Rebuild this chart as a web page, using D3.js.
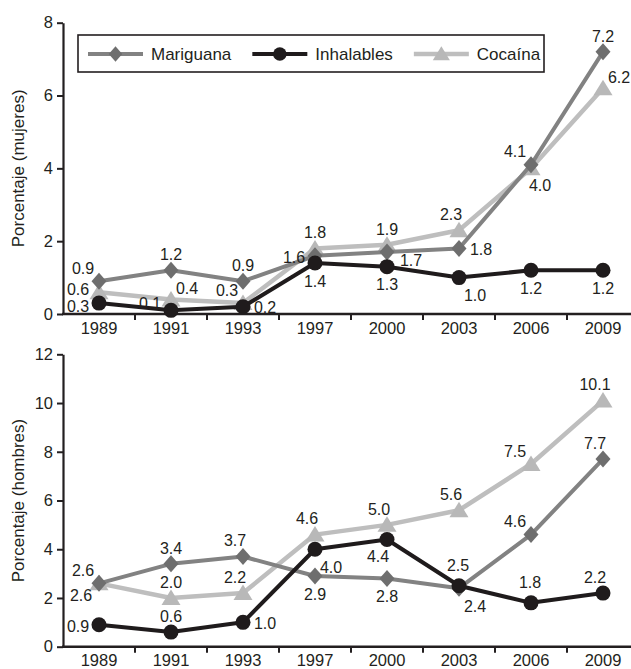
<!DOCTYPE html>
<html>
<head>
<meta charset="utf-8">
<script src="https://cdn.jsdelivr.net/npm/d3@7"></script>
<style>
  html, body { margin: 0; padding: 0; background: #fff; }
  svg text { font-family: "Liberation Sans", Arial, Helvetica, sans-serif; fill: #231f20; }
</style>
</head>
<body>
<svg id="chart" width="631" height="669"></svg>
<script>
// ---------- DATA ----------
const years = ["1989", "1991", "1993", "1997", "2000", "2003", "2006", "2009"];
const seriesNames = ["Mariguana", "Inhalables", "Cocaína"];

// Mujeres (top panel)
const mujeresMariguana  = [0.9, 1.2, 0.9, 1.6, 1.7, 1.8, 4.1, 7.2];
const mujeresInhalables = [0.3, 0.1, 0.2, 1.4, 1.3, 1.0, 1.2, 1.2];
const mujeresCocaina    = [0.6, 0.4, 0.3, 1.8, 1.9, 2.3, 4.0, 6.2];

// Hombres (bottom panel)
const hombresMariguana  = [2.6, 3.4, 3.7, 2.9, 2.8, 2.4, 4.6, 7.7];
const hombresInhalables = [0.9, 0.6, 1.0, 4.0, 4.4, 2.5, 1.8, 2.2];
const hombresCocaina    = [2.6, 2.0, 2.2, 4.6, 5.0, 5.6, 7.5, 10.1];

// Tick labels
const mujeresTicks = [0, 2, 4, 6, 8];
const hombresTicks = [0, 2, 4, 6, 8, 10, 12];
const mujeresTitle = "Porcentaje (mujeres)";
const hombresTitle = "Porcentaje (hombres)";

// Value-label placement (compass direction relative to the point)
const mujeresMariguanaLbl  = ["NW", "N", "N", "W", "ESE", "E", "NW", "N"];
const mujeresInhalablesLbl = ["Wdn", "WNW", "E", "S", "S", "SE", "S", "S"];
const mujeresCocainaLbl    = ["Wup", "NE", "NW", "N", "N", "NNW", "SSE", "NE"];
const hombresMariguanaLbl  = ["NW", "N", "NNW", "S", "S", "SE", "NW", "NNW"];
const hombresInhalablesLbl = ["W", "N", "E", "SE", "SSW", "NN", "NN", "NNW"];
const hombresCocainaLbl    = ["SW", "N", "NNW", "NNW", "NNW", "NNW", "NW", "NNW"];

// ---------- STYLE / LAYOUT ----------
const W = 631, H = 669;
const ink = "#231f20";
const styles = {
  "Mariguana":  { line: "#828282", marker: "#6e6e6e", shape: "diamond", width: 4 },
  "Inhalables": { line: "#1f1b1c", marker: "#1f1b1c", shape: "circle",  width: 4 },
  "Cocaína":    { line: "#bebebe", marker: "#b8b8b8", shape: "triangle", width: 4.5 }
};
const drawOrder = ["Cocaína", "Mariguana", "Inhalables"];
const offsets = {
  N:   [0, -16], NN: [-1, -21], S: [0, 18],
  W:   [-21, 1], Wup: [-21, -3], Wdn: [-21, 3], E: [22, 1], ESE: [24, 8], WNW: [-21, -7],
  NW:  [-16, -13], NE: [16, -11], SW: [-18, 12], SE: [16, 18],
  NNW: [-8, -16], SSE: [9, 17], SSW: [-9, 17]
};

const svg = d3.select("#chart");
const axisX0 = 63;
const x = d3.scaleBand().domain(years).range([axisX0, axisX0 + 72 * years.length]).padding(0);
const cx = d => x(d) + x.bandwidth() / 2;

const panels = [
  { ticks: mujeresTicks, range: [314, 22.7], title: mujeresTitle,
    data: { "Mariguana": mujeresMariguana, "Inhalables": mujeresInhalables, "Cocaína": mujeresCocaina },
    lbl:  { "Mariguana": mujeresMariguanaLbl, "Inhalables": mujeresInhalablesLbl, "Cocaína": mujeresCocainaLbl },
    legend: true },
  { ticks: hombresTicks, range: [646.7, 354.3], title: hombresTitle,
    data: { "Mariguana": hombresMariguana, "Inhalables": hombresInhalables, "Cocaína": hombresCocaina },
    lbl:  { "Mariguana": hombresMariguanaLbl, "Inhalables": hombresInhalablesLbl, "Cocaína": hombresCocainaLbl },
    legend: false }
];

function markerPath(shape) {
  if (shape === "diamond") return "M0,-8.5L7.5,0L0,8.5L-7.5,0Z";
  if (shape === "triangle") return "M0,-8.5L9.5,7L-9.5,7Z";
  return null;
}
function drawMarker(g, shape, color, px, py, scale) {
  scale = scale || 1;
  if (shape === "circle") {
    g.append("circle").attr("cx", px).attr("cy", py).attr("r", 7.5 * scale).attr("fill", color);
  } else {
    g.append("path").attr("d", markerPath(shape))
      .attr("transform", `translate(${px},${py}) scale(${scale})`)
      .attr("fill", color);
  }
}

panels.forEach(p => {
  const y = d3.scaleLinear().domain([p.ticks[0], p.ticks[p.ticks.length - 1]]).range(p.range);
  const g = svg.append("g");

  // Y axis
  const yAxis = g.append("g").attr("transform", `translate(${axisX0},0)`)
    .call(d3.axisLeft(y).tickValues(p.ticks).tickSize(6).tickSizeOuter(0).tickPadding(4).tickFormat(d3.format("d")));
  yAxis.select(".domain").attr("stroke", ink).attr("stroke-width", 2.2);
  yAxis.selectAll(".tick line").attr("stroke", ink).attr("stroke-width", 2);
  yAxis.selectAll(".tick text").style("font-size", "16.5px").attr("fill", ink);

  // X axis
  const y0 = y(0);
  const xAxis = g.append("g").attr("transform", `translate(0,${y0})`)
    .call(d3.axisBottom(x).tickSize(0).tickPadding(8));
  xAxis.select(".domain").remove();
  xAxis.selectAll(".tick text").style("font-size", "16.5px").attr("fill", ink);
  g.append("line").attr("x1", axisX0 - 1).attr("x2", W).attr("y1", y0).attr("y2", y0)
    .attr("stroke", ink).attr("stroke-width", 2.4);
  g.selectAll(".xb").data(years.slice(1)).enter().append("line")
    .attr("x1", d => x(d)).attr("x2", d => x(d))
    .attr("y1", y0).attr("y2", y0 + 6)
    .attr("stroke", ink).attr("stroke-width", 2);

  // Y title
  const midY = (p.range[0] + p.range[1]) / 2;
  g.append("text").attr("transform", `translate(24,${midY}) rotate(-90)`)
    .attr("text-anchor", "middle").style("font-size", "17px").text(p.title);

  // Series lines + markers
  const line = d3.line().x((d, i) => cx(years[i])).y(d => y(d));
  drawOrder.forEach(name => {
    const st = styles[name];
    const vals = p.data[name];
    g.append("path").datum(vals).attr("d", line)
      .attr("fill", "none").attr("stroke", st.line).attr("stroke-width", st.width)
      .attr("stroke-linejoin", "round");
    vals.forEach((v, i) => drawMarker(g, st.shape, st.marker, cx(years[i]), y(v)));
  });

  // Value labels
  drawOrder.forEach(name => {
    const vals = p.data[name];
    const codes = p.lbl[name];
    vals.forEach((v, i) => {
      const o = offsets[codes[i]];
      g.append("text")
        .attr("x", cx(years[i]) + o[0]).attr("y", y(v) + o[1])
        .attr("dy", "0.36em").attr("text-anchor", "middle")
        .style("font-size", "16px").text(d3.format(".1f")(v));
    });
  });

  // Legend
  if (p.legend) {
    const lg = svg.append("g");
    lg.append("rect").attr("x", 78).attr("y", 35).attr("width", 466).attr("height", 37)
      .attr("fill", "#fff").attr("stroke", ink).attr("stroke-width", 1.6);
    let lx = 88;
    const ly = 54;
    seriesNames.forEach(name => {
      const st = styles[name];
      lg.append("line").attr("x1", lx).attr("x2", lx + 55).attr("y1", ly).attr("y2", ly)
        .attr("stroke", st.line).attr("stroke-width", st.width);
      drawMarker(lg, st.shape, st.marker, lx + 27.5, ly, 0.9);
      const t = lg.append("text").attr("x", lx + 63).attr("y", ly).attr("dy", "0.36em")
        .style("font-size", "17px").text(name);
      lx = lx + 63 + t.node().getComputedTextLength() + 21;
    });
  }
});
</script>
</body>
</html>
